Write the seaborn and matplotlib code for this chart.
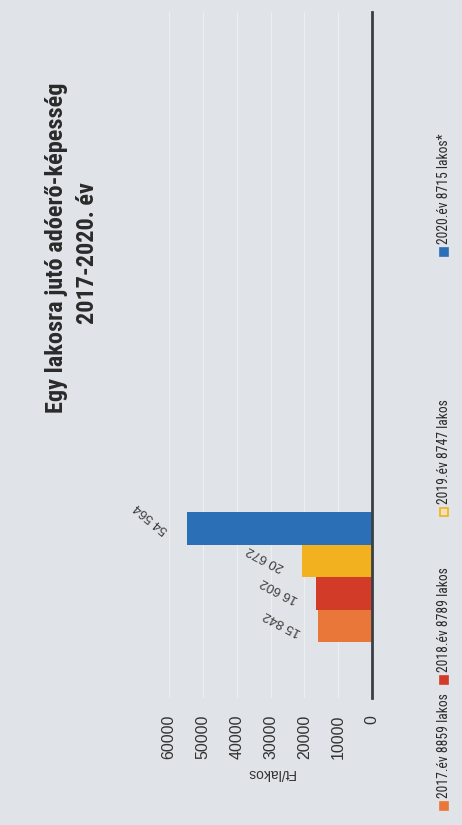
import matplotlib
matplotlib.use("Agg")
import matplotlib.pyplot as plt
from matplotlib import font_manager
import seaborn as sns
import pandas as pd
from matplotlib.patches import Rectangle

# ---- data ----
series = ["2017.év 8859 lakos", "2018.év 8789 lakos", "2019.év 8747 lakos", "2020.év 8715 lakos*"]
values = [15842, 16602, 20672, 54564]
colors = ["#e9773a", "#d23b27", "#f2b11f", "#2b70b7"]
ticks = [0, 10000, 20000, 30000, 40000, 50000, 60000]
tick_labels = ["0", "10000", "20000", "30000", "40000", "50000", "60000"]
title1 = "Egy lakosra jutó adóerő-képesség"
title2 = "2017-2020. év"
axis_label = "Ft/lakos"

df = pd.DataFrame({"series": series, "value": values})
palette = dict(zip(series, colors))

sns.set_theme(style="white")
plt.rcParams["font.family"] = ["Liberation Sans", "DejaVu Sans"]

installed = {f.name for f in font_manager.fontManager.ttflist}
narrow = [n for n in ["Liberation Sans Narrow", "Roboto Condensed", "DejaVu Sans Condensed"]
          if n in installed]
tfam = narrow + ["Liberation Sans", "DejaVu Sans"]
has_narrow = bool(narrow)

W, H = 462, 825
fig = plt.figure(figsize=(W / 100, H / 100), dpi=100)
fig.patch.set_facecolor("#e0e3e7")

def fx(px):
    return px / W

def fy(py):
    return 1 - py / H

# plot area: 60000 at x=169, 0 at x=372; top y=12, bottom y=698
ax = fig.add_axes([fx(169), fy(698), fx(372) - fx(169), (698 - 12) / H])
ax.set_facecolor("none")

order = series[::-1]  # blue on top
sns.barplot(data=df, x="value", y="series", hue="series", order=order,
            palette=palette, orient="h", width=1.0, dodge=False, legend=False,
            saturation=1, edgecolor="none", ax=ax)

ax.set_xlim(60000, 0)
ax.set_ylim(5.22, -15.88)
ax.set_xticks(ticks)
ax.set_xticklabels(tick_labels, rotation=90, fontsize=11.5, color="#333333")
ax.tick_params(axis="x", length=0, pad=12)
ax.set_yticks([])
ax.set_xlabel("")
ax.set_ylabel("")
for s in ["top", "bottom", "left"]:
    ax.spines[s].set_visible(False)
ax.spines["right"].set_visible(True)
ax.spines["right"].set_color("#3a3f45")
ax.spines["right"].set_linewidth(2.0)
ax.grid(axis="x", color="#eceef1", linewidth=0.9)
ax.set_axisbelow(True)

# data labels
rot = {54564: 140}
for cont in ax.containers:
    for bar in cont:
        v = bar.get_width()
        yc = bar.get_y() + bar.get_height() / 2
        dy = 7 if v == max(values) else 2
        ax.annotate(f"{int(round(v)):,}".replace(",", " "), xy=(v, yc),
                    xytext=(-26, dy), textcoords="offset points",
                    ha="center", va="center", rotation=rot.get(int(round(v)), 152),
                    rotation_mode="anchor", fontsize=9.5, color="#3c3c3c")

# axis title (rotated with the chart)
fig.text(fx(270), fy(773), axis_label, rotation=180, ha="center", va="center",
         fontsize=10, color="#333333")

# title
tsize = 17.5 if has_narrow else 15
fig.text(fx(57), fy(248), title1, rotation=90, ha="center", va="center",
         fontsize=tsize, fontweight="bold", family=tfam, color="#2a2a2a")
fig.text(fx(88), fy(253), title2, rotation=90, ha="center", va="center",
         fontsize=tsize, fontweight="bold", family=tfam, color="#2a2a2a")

# legend (rotated)
leg_y = [806, 680, 512, 252]
lsize = 9.8 if has_narrow else 9.0
for lab, col, py in zip(series, colors, leg_y):
    size = 8
    face = col if lab != series[2] else "#f6e2b8"
    fig.patches.append(Rectangle((fx(444 - size / 2), fy(py + size / 2)), size / W, size / H,
                                 transform=fig.transFigure, facecolor=face,
                                 edgecolor=col, linewidth=1.2))
    fig.text(fx(444), fy(py - 8), lab, rotation=90, rotation_mode="anchor",
             ha="left", va="center", fontsize=lsize, family=tfam, color="#2a2a2a")

fig.savefig("out.png", dpi=100, facecolor=fig.get_facecolor())
